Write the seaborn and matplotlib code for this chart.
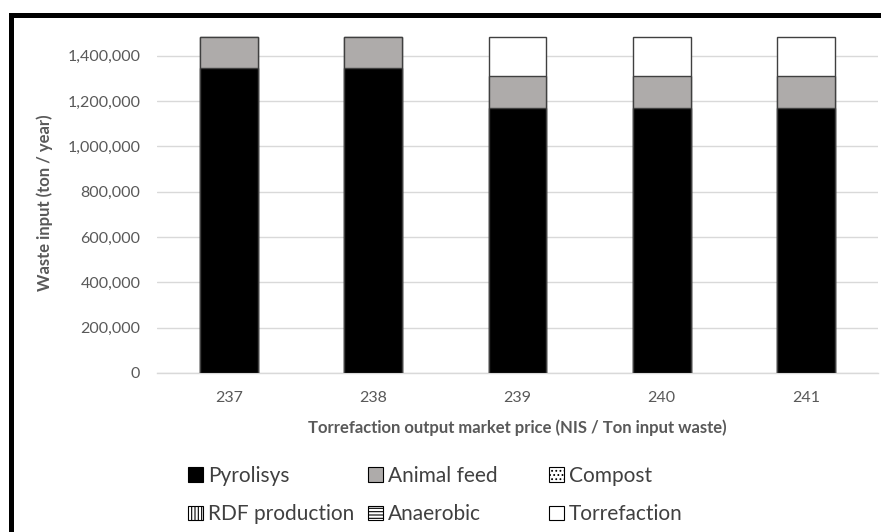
import pandas as pd
import matplotlib.pyplot as plt
import seaborn as sns
from matplotlib.patches import Patch, Rectangle
from matplotlib.ticker import FuncFormatter

# Values
prices = ['237', '238', '239', '240', '241']
pyrolisys = [1345000, 1345000, 1171000, 1171000, 1171000]
animal_feed = [137000, 137000, 140000, 140000, 140000]
compost = [0, 0, 0, 0, 0]
rdf_production = [0, 0, 0, 0, 0]
anaerobic = [0, 0, 0, 0, 0]
torrefaction = [0, 0, 171000, 171000, 171000]

series_names = ['Pyrolisys', 'Animal feed', 'Compost', 'RDF production', 'Anaerobic', 'Torrefaction']
series_values = [pyrolisys, animal_feed, compost, rdf_production, anaerobic, torrefaction]
series_colors = ['#000000', '#AEABAA', 'white', 'white', 'white', 'white']
series_hatches = ['', '', '....', '|||||', '-----', '']

sns.set_style('white')
plt.rcParams['font.family'] = ['Lato', 'DejaVu Sans']
plt.rcParams['hatch.linewidth'] = 0.8

fig = plt.figure(figsize=(8.81, 5.32), dpi=100)
ax = fig.add_axes([157 / 881, 1 - 373 / 532, (878 - 157) / 881, 340 / 532])

# stacked bars: cumulative tops, tallest drawn first
df = pd.DataFrame(dict(zip(series_names, series_values)), index=prices)
cum = df.cumsum(axis=1)
for name, color in reversed(list(zip(series_names, series_colors))):
    if df[name].sum() == 0:
        continue
    sns.barplot(x=prices, y=cum[name].values, order=prices, color=color,
                width=0.4, edgecolor='#404040', linewidth=1.0,
                saturation=1, ax=ax, zorder=3)

ax.set_ylim(0, 1500000)
ax.set_xlim(-0.5, 4.5)
ax.set_yticks(range(0, 1400001, 200000))
ax.yaxis.set_major_formatter(FuncFormatter(lambda v, p: f'{int(v):,}'))
ax.grid(axis='y', color='#D9D9D9', linewidth=1.0, zorder=0)
ax.set_axisbelow(True)
for s in ['top', 'right', 'left']:
    ax.spines[s].set_visible(False)
ax.spines['bottom'].set_color('#D9D9D9')
ax.spines['bottom'].set_linewidth(1.0)
ax.tick_params(axis='both', length=0, labelsize=11.5, labelcolor='#595959')
ax.tick_params(axis='y', pad=12)
ax.tick_params(axis='x', pad=13)

ax.set_ylabel('Waste input (ton / year)', fontsize=12, fontweight='bold',
              color='#595959', labelpad=10)
ax.set_xlabel('Torrefaction output market price (NIS / Ton input waste)',
              fontsize=12, fontweight='bold', color='#595959', labelpad=10)

handles = [Patch(facecolor=c, edgecolor='#000000', hatch=h, linewidth=0.8, label=n)
           for n, c, h in zip(series_names, series_colors, series_hatches)]

# legend laid out as three evenly spaced columns, like the original
col_x = [188, 368, 549]
for col, x in enumerate(col_x):
    idx = [col, col + 3]
    fig.legend([handles[i] for i in idx], [series_names[i] for i in idx],
               loc='center left', bbox_to_anchor=(x / 881, 1 - 495 / 532),
               ncol=1, frameon=False, fontsize=15, labelcolor='#404040',
               handlelength=0.7, handleheight=0.7, handletextpad=0.25,
               labelspacing=0.9, borderaxespad=0, borderpad=0)

# thick black frame around the picture (left and top edges)
fig.add_artist(Rectangle((10.5 / 881, -0.2), 1.2, 1.2 - 14.5 / 532,
                         transform=fig.transFigure, fill=False,
                         edgecolor='black', linewidth=3.6, clip_on=False))

fig.savefig('out.png', dpi=100)
plt.close(fig)
